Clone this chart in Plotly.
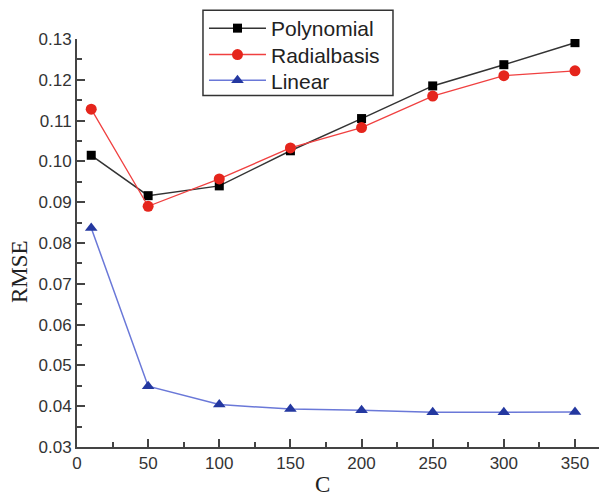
import plotly.graph_objects as go

C = [10, 50, 100, 150, 200, 250, 300, 350]
polynomial = [0.1015, 0.0916, 0.0940, 0.1026, 0.1105, 0.1185, 0.1237, 0.1291]
radialbasis = [0.1128, 0.0890, 0.0957, 0.1033, 0.1083, 0.1160, 0.1210, 0.1222]
linear = [0.0837, 0.0449, 0.0404, 0.0393, 0.0390, 0.0385, 0.0385, 0.0386]

x_ticks = [0, 50, 100, 150, 200, 250, 300, 350]
y_ticks = [0.03, 0.04, 0.05, 0.06, 0.07, 0.08, 0.09, 0.10, 0.11, 0.12, 0.13]
y_ticklabels = ["0.03", "0.04", "0.05", "0.06", "0.07", "0.08", "0.09", "0.10", "0.11", "0.12", "0.13"]

fig = go.Figure()
fig.add_trace(go.Scatter(x=C, y=polynomial, name="Polynomial", mode="lines+markers",
                         line=dict(color="#333333", width=1.5), legend="legend",
                         marker=dict(symbol="square", size=9, color="#000000")))
fig.add_trace(go.Scatter(x=C, y=radialbasis, name="Radialbasis", mode="lines+markers",
                         line=dict(color="#f04040", width=1.3), legend="legend2",
                         marker=dict(symbol="circle", size=11, color="#e5251c")))
fig.add_trace(go.Scatter(x=C, y=linear, name="Linear", mode="lines+markers",
                         line=dict(color="#6a78d8", width=1.5), legend="legend3",
                         marker=dict(symbol="triangle-up", size=11, color="#2438a0")))

axis_common = dict(showline=True, linecolor="#444444", linewidth=2,
                   ticks="inside", tickcolor="#444444", tickwidth=2, ticklen=8,
                   showgrid=False, zeroline=False, mirror=False, automargin=False,
                   tickfont=dict(family="Liberation Sans, Arial", size=17, color="#333333"))

legend_font = dict(family="Liberation Sans, Arial", size=21, color="#222222")
def leg(y):
    return dict(x=0.2396, y=y, xanchor="left", yanchor="middle", borderwidth=0,
                bgcolor="rgba(0,0,0,0)", font=legend_font, itemwidth=57)

fig.update_layout(
    width=599, height=490,
    margin=dict(l=69, r=0, t=28, b=51),
    paper_bgcolor="white", plot_bgcolor="white",
    showlegend=True,
    legend=leg(1.0268), legend2=leg(0.9611), legend3=leg(0.8978),
    xaxis=dict(range=[0, 372.5], tickvals=x_ticks,
               minor=dict(ticks="inside", ticklen=5, tickcolor="#444444", tickwidth=1.5, dtick=25, tick0=0),
               **axis_common),
    yaxis=dict(range=[0.03, 0.13], tickvals=y_ticks, ticktext=y_ticklabels,
               minor=dict(ticks="inside", ticklen=5, tickcolor="#444444", tickwidth=1.5, dtick=0.005, tick0=0.03),
               **axis_common),
    shapes=[dict(type="rect", xref="paper", yref="paper", x0=0.2377, x1=0.5962, y0=0.8613, y1=1.0706,
                 line=dict(color="#333333", width=1.5), fillcolor="white", layer="below")],
    annotations=[
        dict(text="C", xref="paper", yref="paper", x=0.464, y=-0.0925, xanchor="center", yanchor="middle",
             showarrow=False, font=dict(family="Liberation Serif, Times New Roman", size=23, color="#222222")),
        dict(text="RMSE", xref="paper", yref="paper", x=-0.1085, y=0.43, xanchor="center", yanchor="middle",
             textangle=-90, showarrow=False,
             font=dict(family="Liberation Serif, Times New Roman", size=23, color="#222222")),
    ],
)

fig.write_html("out.html")
